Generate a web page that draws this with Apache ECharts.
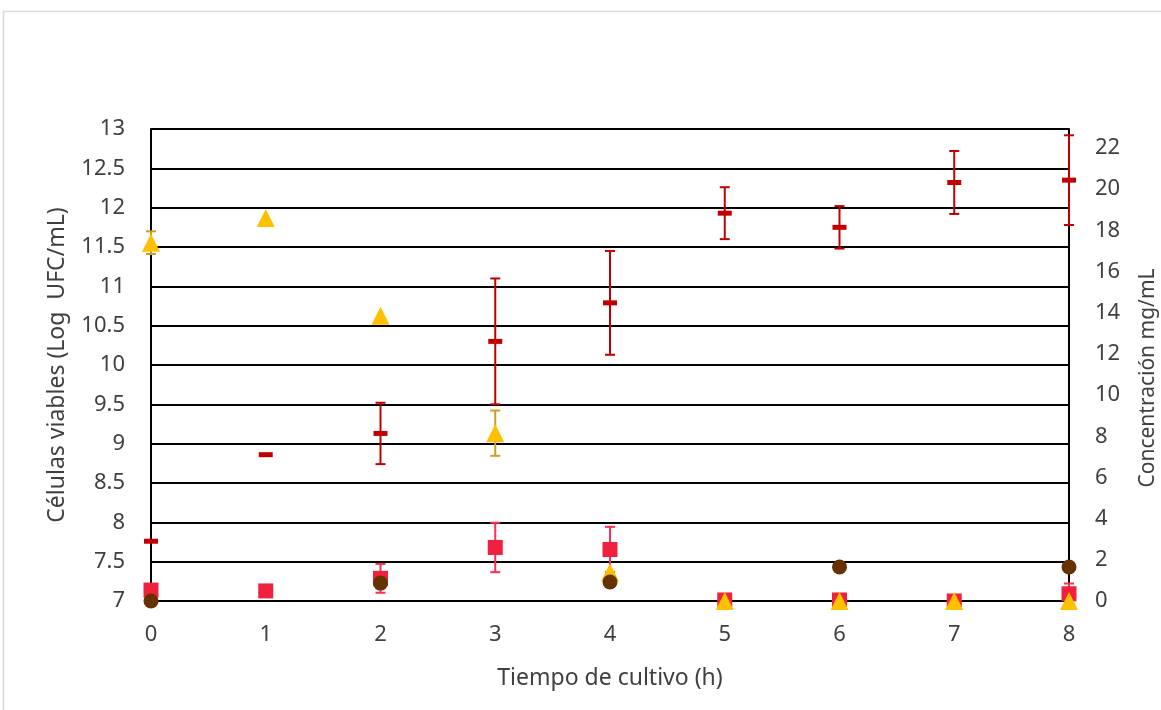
<!DOCTYPE html>
<html>
<head>
<meta charset="utf-8">
<script src="https://cdn.jsdelivr.net/npm/echarts@6/dist/echarts.min.js"></script>
<style>html,body{margin:0;padding:0;background:#fff;}#c{width:1161px;height:710px;}</style>
</head>
<body>
<div id="c"></div>
<script>
// Time (h)
var hours = [0, 1, 2, 3, 4, 5, 6, 7, 8];
// Viable cells (Log UFC/mL) — left axis
var cells = [7.76, 8.86, 9.13, 10.30, 10.79, 11.93, 11.75, 12.32, 12.35];
var cellsErr = [0, 0, 0.39, 0.80, 0.66, 0.33, 0.27, 0.40, 0.57];
// Concentrations (mg/mL) — right axis
var triangles = [17.4, 18.6, 13.85, 8.15, 1.4, 0, 0, 0, 0];
var trianglesErr = [0.55, 0, 0, 1.1, 0, 0, 0, 0, 0];
var squares = [0.53, 0.49, 1.1, 2.6, 2.5, 0.05, 0.05, 0, 0.35];
var squaresErr = [0, 0, 0.7, 1.2, 1.1, 0, 0, 0, 0.5];
var circles = [0, null, 0.87, null, 0.92, null, 1.65, null, 1.65];
// Axis tick settings
var leftMin = 7, leftMax = 13, leftStep = 0.5;
var rightMin = 0, rightMax = 22.92, rightStep = 2;

function pts(vals) {
  var out = [];
  for (var i = 0; i < hours.length; i++) if (vals[i] !== null) out.push([hours[i], vals[i]]);
  return out;
}
function errs(vals, e) {
  var out = [];
  for (var i = 0; i < hours.length; i++) if (vals[i] !== null && e[i] > 0) out.push([hours[i], vals[i] - e[i], vals[i] + e[i]]);
  return out;
}
function errSeries(data, axis, color, z) {
  return {
    type: 'custom', yAxisIndex: axis, z: z, silent: true,
    encode: { x: 0, y: [1, 2] },
    data: data,
    renderItem: function (params, api) {
      var x = api.value(0);
      var lo = api.coord([x, api.value(1)]);
      var hi = api.coord([x, api.value(2)]);
      var w = 5;
      var st = { stroke: color, lineWidth: 2 };
      return { type: 'group', children: [
        { type: 'line', shape: { x1: lo[0], y1: lo[1], x2: hi[0], y2: hi[1] }, style: st },
        { type: 'line', shape: { x1: lo[0] - w, y1: lo[1], x2: lo[0] + w, y2: lo[1] }, style: st },
        { type: 'line', shape: { x1: hi[0] - w, y1: hi[1], x2: hi[0] + w, y2: hi[1] }, style: st }
      ]};
    }
  };
}
var labelStyle = { color: '#404040', fontSize: 22, fontFamily: 'Noto Sans' };
var nameStyle = { color: '#404040', fontSize: 23, fontFamily: 'Noto Sans' };
var chart = echarts.init(document.getElementById('c'));
chart.setOption({
  animation: false,
  backgroundColor: '#fff',
  graphic: [{ type: 'rect', shape: { x: 3.5, y: 11.5, width: 1200, height: 760 }, style: { fill: 'none', stroke: '#d9d9d9', lineWidth: 1.5 }, z: -10 }],
  grid: { left: 151, right: 92, top: 129, bottom: 109, containLabel: false, outerBoundsMode: 'none' },
  xAxis: {
    type: 'value', min: 0, max: 8, interval: 1,
    name: 'Tiempo de cultivo (h)', nameLocation: 'middle', nameGap: 66,
    nameTextStyle: nameStyle,
    axisLine: { show: true, onZero: false, lineStyle: { color: '#000', width: 2 } },
    axisTick: { show: false },
    splitLine: { show: false },
    axisLabel: Object.assign({ margin: 23 }, labelStyle)
  },
  yAxis: [{
    type: 'value', min: leftMin, max: leftMax, interval: leftStep,
    name: 'Células viables (Log  UFC/mL)', nameLocation: 'middle', nameGap: 82, nameRotate: 90,
    nameTextStyle: nameStyle,
    axisLine: { show: true, lineStyle: { color: '#000', width: 2 } },
    axisTick: { show: false },
    splitLine: { show: true, lineStyle: { color: '#000', width: 2 } },
    axisLabel: Object.assign({ margin: 26 }, labelStyle)
  }, {
    type: 'value', min: rightMin, max: rightMax, interval: rightStep,
    name: 'Concentración mg/mL', nameLocation: 'middle', nameGap: 69, nameRotate: 90,
    nameTextStyle: { color: '#404040', fontSize: 21, fontFamily: 'Noto Sans', padding: [0, 26, 0, 0] },
    axisLine: { show: true, lineStyle: { color: '#000', width: 2 } },
    axisTick: { show: false },
    splitLine: { show: false },
    axisLabel: Object.assign({ margin: 26, showMaxLabel: false }, labelStyle)
  }],
  series: [
    errSeries(errs(cells, cellsErr), 0, '#C00000', 2),
    { type: 'scatter', yAxisIndex: 0, z: 3, symbol: 'rect', symbolSize: [14, 5],
      itemStyle: { color: '#C00000', opacity: 1 }, data: pts(cells) },
    errSeries(errs(squares, squaresErr), 1, '#FF2D55', 4),
    { type: 'scatter', yAxisIndex: 1, z: 5, symbol: 'rect', symbolSize: 15,
      itemStyle: { color: '#F0203F', opacity: 1 }, data: pts(squares) },
    errSeries(errs(triangles, trianglesErr), 1, '#C9A020', 6),
    { type: 'scatter', yAxisIndex: 1, z: 7, symbol: 'triangle', symbolSize: 18,
      itemStyle: { color: '#FFC000', opacity: 1 }, data: pts(triangles) },
    { type: 'scatter', yAxisIndex: 1, z: 8, symbol: 'circle', symbolSize: 15,
      itemStyle: { color: '#663300', opacity: 1 }, data: pts(circles) }
  ]
});
</script>
</body>
</html>
